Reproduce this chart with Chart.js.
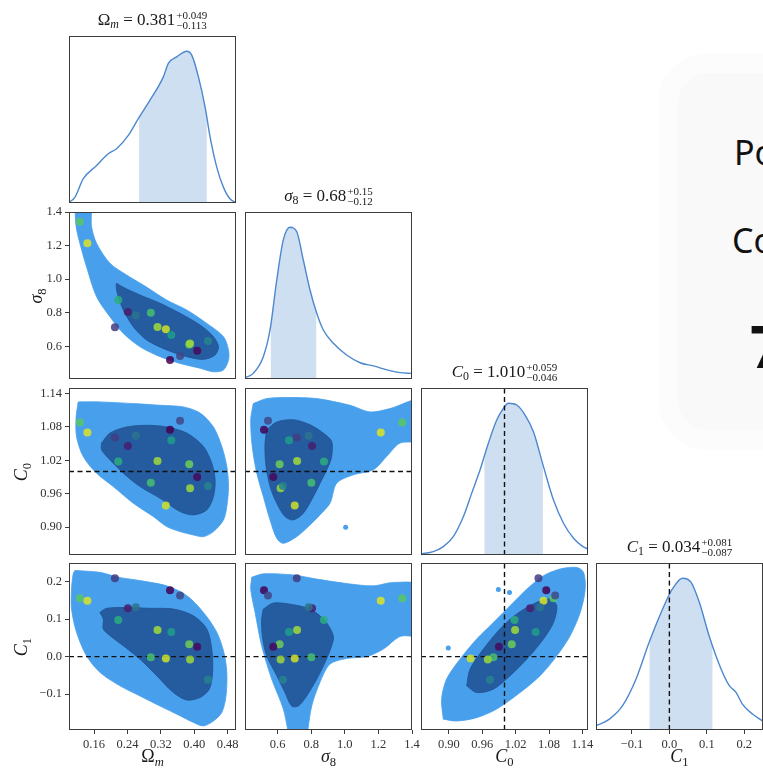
<!DOCTYPE html>
<html>
<head>
<meta charset="utf-8">
<script src="https://cdn.jsdelivr.net/npm/chart.js@4.4.1/dist/chart.umd.min.js"></script>
<style>
  html, body { margin: 0; padding: 0; background: #fff; }
  body { width: 763px; height: 770px; position: relative; overflow: hidden;
         font-family: "Liberation Serif", "DejaVu Serif", serif; color: #1a1a1a; }
  canvas { position: absolute; }
  .ttl { position: absolute; text-align: center; font-size: 17px; line-height: 22px; white-space: nowrap; }
  .ss { display: inline-block; vertical-align: -3.5px; font-size: 11px; line-height: 10px; text-align: left; margin-left: 1px; }
  .ss span { display: block; }
  .lab { position: absolute; font-size: 18px; line-height: 18px; white-space: nowrap; transform: translate(-50%, -50%); }
  .lab.rot { transform: translate(-50%, -50%) rotate(-90deg); }
  sub { font-size: 0.7em; vertical-align: -0.28em; line-height: 0; }
  #card { position: absolute; left: 678px; top: 73px; width: 160px; height: 357px; border-radius: 30px;
          background: #f9f9f9; box-shadow: 0 0 0 20px #fcfcfc; font-family: "Noto Sans", "Open Sans", sans-serif; color: #111; }
  #card div { position: absolute; font-size: 34px; line-height: 34px; white-space: nowrap; }
  #card div.big { font-size: 60px; line-height: 60px; font-weight: 700; }
</style>
</head>
<body>
<div id="card">
  <div style="left:56px; top:62px;">Po</div>
  <div style="left:54px; top:150px;">Co</div>
  <div class="big" style="left:72px; top:242px;">7</div>
</div>
<script>
// ---- parameter ranges and ticks ----
const omRange = [0.1, 0.5];
const s8Range = [0.406, 1.4];
const c0Range = [0.85, 1.15];
const c1Range = [-0.196, 0.25];

const omTicks = [0.16, 0.24, 0.32, 0.40, 0.48];
const s8Ticks = [0.6, 0.8, 1.0, 1.2, 1.4];
const c0Ticks = [0.90, 0.96, 1.02, 1.08, 1.14];
const c1Ticks = [-0.1, 0.0, 0.1, 0.2];

// fiducial values (dashed lines)
const c0Fid = 1.0;
const c1Fid = 0.0;

// ---- marginal summaries: median, +upper, -lower ----
const omStat = [0.381, 0.049, 0.113];
const s8Stat = [0.68, 0.15, 0.12];
const c0Stat = [1.010, 0.059, 0.046];
const c1Stat = [0.034, 0.081, 0.087];

// ---- 1D marginal densities (peak-normalised) ----
const omX = [0.100, 0.114, 0.134, 0.166, 0.194, 0.214, 0.242, 0.266, 0.294, 0.326, 0.338, 0.358, 0.382, 0.394, 0.410, 0.426, 0.438, 0.454, 0.470, 0.486, 0.500];
const omY = [0.004, 0.037, 0.159, 0.247, 0.324, 0.357, 0.445, 0.556, 0.677, 0.831, 0.920, 0.963, 1.000, 0.974, 0.831, 0.632, 0.434, 0.235, 0.103, 0.026, 0.004];

const s8X = [0.406, 0.455, 0.515, 0.555, 0.595, 0.634, 0.674, 0.714, 0.753, 0.793, 0.833, 0.872, 0.932, 1.011, 1.091, 1.170, 1.269, 1.329, 1.400];
const s8Y = [0.009, 0.037, 0.147, 0.323, 0.652, 0.916, 1.000, 0.970, 0.784, 0.586, 0.433, 0.323, 0.235, 0.158, 0.107, 0.086, 0.055, 0.042, 0.037];

const c0X = [0.851, 0.872, 0.890, 0.908, 0.926, 0.941, 0.956, 0.971, 0.986, 0.998, 1.007, 1.022, 1.037, 1.052, 1.070, 1.088, 1.106, 1.124, 1.141, 1.150];
const c0Y = [0.007, 0.022, 0.055, 0.121, 0.252, 0.406, 0.560, 0.736, 0.889, 0.966, 1.000, 0.988, 0.922, 0.812, 0.582, 0.362, 0.209, 0.110, 0.055, 0.040];

const c1X = [-0.196, -0.160, -0.125, -0.089, -0.054, -0.018, 0.008, 0.035, 0.058, 0.080, 0.106, 0.138, 0.160, 0.178, 0.195, 0.222, 0.248];
const c1Y = [0.028, 0.072, 0.160, 0.336, 0.578, 0.797, 0.929, 1.000, 0.973, 0.841, 0.621, 0.402, 0.292, 0.248, 0.171, 0.105, 0.061];

// ---- 2D credible regions (outer 95%, inner 68%) ----
const contOmS8Outer = [[0.114,1.45],[0.150,1.45],[0.154,1.313],[0.166,1.214],[0.198,1.095],[0.238,1.025],[0.278,0.965],[0.334,0.876],[0.382,0.817],[0.430,0.737],[0.470,0.658],[0.482,0.579],[0.482,0.519],[0.470,0.460],[0.446,0.449],[0.414,0.470],[0.366,0.499],[0.318,0.539],[0.270,0.598],[0.230,0.678],[0.198,0.777],[0.166,0.896],[0.142,1.074],[0.126,1.214],[0.117,1.313]];
const contOmS8Inner = [[0.214,0.976],[0.230,0.952],[0.270,0.906],[0.318,0.857],[0.366,0.797],[0.414,0.727],[0.446,0.658],[0.458,0.598],[0.450,0.549],[0.422,0.523],[0.382,0.539],[0.334,0.579],[0.286,0.638],[0.254,0.717],[0.230,0.817],[0.218,0.896],[0.213,0.952]];

const contOmC0Outer = [[0.122,1.125],[0.174,1.125],[0.254,1.122],[0.318,1.119],[0.374,1.116],[0.414,1.105],[0.446,1.080],[0.466,1.045],[0.478,1.009],[0.482,0.973],[0.478,0.937],[0.470,0.913],[0.446,0.892],[0.422,0.883],[0.398,0.886],[0.366,0.892],[0.334,0.901],[0.302,0.919],[0.254,0.943],[0.206,0.973],[0.166,0.997],[0.134,1.027],[0.118,1.063],[0.117,1.098]];
const contOmC0Inner = [[0.178,1.051],[0.198,1.069],[0.238,1.080],[0.286,1.083],[0.334,1.080],[0.382,1.069],[0.422,1.045],[0.442,1.015],[0.450,0.985],[0.446,0.955],[0.430,0.931],[0.398,0.922],[0.366,0.928],[0.318,0.952],[0.270,0.973],[0.230,0.997],[0.198,1.021],[0.178,1.039]];

const contOmC1Outer = [[0.114,0.230],[0.174,0.225],[0.218,0.212],[0.270,0.203],[0.334,0.189],[0.382,0.163],[0.422,0.118],[0.454,0.065],[0.471,0.011],[0.478,-0.042],[0.476,-0.105],[0.466,-0.149],[0.446,-0.172],[0.422,-0.185],[0.398,-0.176],[0.366,-0.158],[0.318,-0.132],[0.270,-0.105],[0.222,-0.078],[0.174,-0.042],[0.142,0.002],[0.118,0.065],[0.106,0.127],[0.106,0.180],[0.110,0.221]];
const contOmC1Inner = [[0.174,0.118],[0.190,0.129],[0.238,0.131],[0.294,0.129],[0.350,0.127],[0.398,0.109],[0.430,0.074],[0.442,0.020],[0.444,-0.042],[0.436,-0.087],[0.414,-0.109],[0.382,-0.116],[0.350,-0.096],[0.310,-0.051],[0.270,-0.007],[0.230,0.029],[0.198,0.056],[0.182,0.074],[0.182,0.100]];

const contS8C0Outer = [[0.455,1.122],[0.535,1.131],[0.654,1.133],[0.833,1.131],[1.031,1.119],[1.150,1.107],[1.269,1.113],[1.45,1.128],[1.45,1.057],[1.329,1.051],[1.249,1.027],[1.170,1.003],[1.051,0.994],[0.952,0.979],[0.912,0.943],[0.852,0.922],[0.783,0.901],[0.714,0.883],[0.634,0.871],[0.595,0.880],[0.555,0.913],[0.515,0.955],[0.476,0.997],[0.449,1.045],[0.440,1.093]];
const contS8C0Inner = [[0.535,1.075],[0.595,1.089],[0.694,1.093],[0.793,1.084],[0.872,1.069],[0.922,1.054],[0.922,1.027],[0.902,1.009],[0.863,0.985],[0.813,0.955],[0.753,0.925],[0.694,0.913],[0.644,0.919],[0.595,0.943],[0.555,0.973],[0.529,1.015],[0.525,1.051]];

const contS8C1Outer = [[0.446,0.212],[0.515,0.221],[0.694,0.218],[0.833,0.207],[1.031,0.194],[1.170,0.189],[1.289,0.198],[1.45,0.189],[1.45,0.060],[1.329,0.054],[1.229,0.020],[1.130,0.000],[1.011,-0.005],[0.912,-0.020],[0.852,-0.069],[0.803,-0.132],[0.753,-0.25],[0.694,-0.25],[0.634,-0.140],[0.565,-0.060],[0.505,0.029],[0.466,0.118],[0.440,0.180]];
const contS8C1Inner = [[0.515,0.127],[0.574,0.143],[0.674,0.140],[0.793,0.127],[0.882,0.096],[0.932,0.056],[0.922,0.029],[0.882,-0.016],[0.833,-0.060],[0.773,-0.105],[0.723,-0.132],[0.684,-0.132],[0.644,-0.096],[0.595,-0.051],[0.535,0.002],[0.509,0.056],[0.505,0.100]];

const contC0C1Outer = [[0.890,-0.167],[0.887,-0.114],[0.896,-0.060],[0.920,-0.007],[0.950,0.047],[0.980,0.091],[1.010,0.136],[1.040,0.180],[1.070,0.216],[1.100,0.234],[1.130,0.238],[1.142,0.225],[1.145,0.180],[1.136,0.118],[1.118,0.056],[1.094,0.002],[1.064,-0.051],[1.028,-0.096],[0.986,-0.140],[0.950,-0.163],[0.914,-0.172]];
const contC0C1Inner = [[0.932,-0.078],[0.938,-0.034],[0.962,0.020],[0.992,0.074],[1.022,0.114],[1.058,0.145],[1.082,0.154],[1.094,0.136],[1.088,0.091],[1.070,0.047],[1.040,-0.007],[1.010,-0.051],[0.980,-0.087],[0.950,-0.096]];

// small detached pieces of the outer region
const islandS8C0 = [[1.005, 0.900]];
const islandS8C1 = [[1.299, 0.156], [1.289, 0.134]];
const islandC0C1 = [[0.989, 0.179], [1.009, 0.171], [0.899, 0.023]];

// ---- simulation points (colour = score) ----
const sampleOm = [0.126, 0.144, 0.218, 0.210, 0.241, 0.260, 0.296, 0.312, 0.332, 0.345, 0.388, 0.390, 0.433, 0.407, 0.342, 0.366];
const sampleS8 = [1.342, 1.214, 0.876, 0.714, 0.805, 0.785, 0.801, 0.716, 0.702, 0.668, 0.612, 0.618, 0.632, 0.574, 0.519, 0.543];
const sampleC0 = [1.088, 1.070, 1.018, 1.061, 1.046, 1.064, 0.980, 1.019, 0.939, 1.056, 1.013, 0.970, 0.974, 0.990, 1.075, 1.091];
const sampleC1 = [0.156, 0.149, 0.098, 0.209, 0.129, 0.132, -0.002, 0.071, -0.005, 0.066, 0.033, -0.008, -0.062, 0.026, 0.177, 0.163];
const sampleScore = [0.74, 0.95, 0.62, 0.18, 0.08, 0.38, 0.70, 0.86, 0.93, 0.55, 0.78, 0.85, 0.45, 0.02, 0.00, 0.22];

// ---- styling ----
const LINE_BLUE = 'rgb(76,136,206)';
const SHADE_BLUE = 'rgba(76,136,206,0.27)';
const OUTER_FILL = 'rgb(72,160,236)';
const INNER_FILL = 'rgb(37,92,160)';
const FRAME = '#3c3c3c';
const TICK_FONT = { family: 'Liberation Serif', size: 12.5 };

const X0 = 69, Y0 = 36, PITCH = 175.75, SIZE = 167, PAD = 10, YAXIS_W = 59, XAXIS_H = 26;

const axes = {
  om: { range: omRange, ticks: omTicks, dec: 2, name: 'Ω<sub><i>m</i></sub>', stat: omStat, sdec: 3, x: omX, y: omY },
  s8: { range: s8Range, ticks: s8Ticks, dec: 1, name: '<i>σ</i><sub>8</sub>', stat: s8Stat, sdec: 2, x: s8X, y: s8Y },
  c0: { range: c0Range, ticks: c0Ticks, dec: 2, name: '<i>C</i><sub>0</sub>', stat: c0Stat, sdec: 3, x: c0X, y: c0Y },
  c1: { range: c1Range, ticks: c1Ticks, dec: 1, name: '<i>C</i><sub>1</sub>', stat: c1Stat, sdec: 3, x: c1X, y: c1Y },
};
const keys = ['om', 's8', 'c0', 'c1'];
const fid = { c0: c0Fid, c1: c1Fid };
const samples = { om: sampleOm, s8: sampleS8, c0: sampleC0, c1: sampleC1 };

const pairs = [
  { x: 'om', y: 's8', outer: contOmS8Outer, inner: contOmS8Inner, islands: [] },
  { x: 'om', y: 'c0', outer: contOmC0Outer, inner: contOmC0Inner, islands: [] },
  { x: 'om', y: 'c1', outer: contOmC1Outer, inner: contOmC1Inner, islands: [] },
  { x: 's8', y: 'c0', outer: contS8C0Outer, inner: contS8C0Inner, islands: islandS8C0 },
  { x: 's8', y: 'c1', outer: contS8C1Outer, inner: contS8C1Inner, islands: islandS8C1 },
  { x: 'c0', y: 'c1', outer: contC0C1Outer, inner: contC0C1Inner, islands: islandC0C1 },
];

const VIRIDIS = [[68,1,84],[72,40,120],[62,73,137],[49,104,142],[38,130,142],[31,158,137],[53,183,121],[109,205,89],[180,222,44],[253,231,37]];
function viridis(t, a) {
  const n = VIRIDIS.length - 1;
  const p = Math.max(0, Math.min(1, t)) * n;
  const i = Math.min(n - 1, Math.floor(p));
  const f = p - i;
  const c = VIRIDIS[i].map((v, k) => Math.round(v + (VIRIDIS[i + 1][k] - v) * f));
  return `rgba(${c[0]},${c[1]},${c[2]},${a})`;
}

function fmt(v, d) {
  const s = Math.abs(v).toFixed(d);
  return (v < -1e-9 ? '\u2212' : '') + s;
}
const toXY = arr => arr.map(([x, y]) => ({ x, y }));
const closed = arr => toXY(arr.concat([arr[0]]));

// frame around each panel
const framePlugin = {
  id: 'frame',
  afterDraw(chart) {
    const { ctx, chartArea: a } = chart;
    ctx.save();
    ctx.strokeStyle = FRAME;
    ctx.lineWidth = 1;
    ctx.strokeRect(Math.round(a.left) + 0.5, Math.round(a.top) + 0.5, Math.round(a.right - a.left) - 1, Math.round(a.bottom - a.top) - 1);
    ctx.restore();
  }
};

// restricts the shaded credible-interval fill to [lo, hi]
const shadePlugin = {
  id: 'shadeClip',
  beforeDatasetsDraw(chart) {
    const ds = chart.data.datasets;
    const idx = ds.findIndex(d => d.shadeRange);
    chart.$shadeIdx = idx;
    if (idx < 0) return;
    const [lo, hi] = ds[idx].shadeRange;
    const xs = chart.scales.x, a = chart.chartArea;
    const x1 = xs.getPixelForValue(lo), x2 = xs.getPixelForValue(hi);
    chart.ctx.save();
    chart.ctx.beginPath();
    chart.ctx.rect(x1, a.top, x2 - x1, a.bottom - a.top);
    chart.ctx.clip();
  },
  afterDatasetDraw(chart, args) {
    if (args.index === chart.$shadeIdx) chart.ctx.restore();
  }
};

function scaleCfg(key, pos, show) {
  const a = axes[key];
  return {
    type: 'linear', position: pos, min: a.range[0], max: a.range[1], display: show,
    grid: { drawOnChartArea: false, drawTicks: true, tickLength: 4, color: FRAME, lineWidth: 1 },
    border: { display: false },
    ticks: { font: TICK_FONT, color: '#333', padding: 3, maxRotation: 0, minRotation: 0, autoSkip: false,
             callback: v => fmt(v, a.dec) },
    afterBuildTicks: s => { s.ticks = a.ticks.map(v => ({ value: v })); },
    afterFit: s => {
      if (show) { if (pos === 'left') s.width = YAXIS_W; else s.height = XAXIS_H; }
      else { s.width = 0; s.height = 0; }
      s.paddingLeft = s.paddingRight = s.paddingTop = s.paddingBottom = 0;
    }
  };
}

function makeCanvas(col, row) {
  const L = Math.round(X0 + PITCH * col), T = Math.round(Y0 + PITCH * row);
  const showY = col === 0 && row > 0, showX = row === 3;
  const left = showY ? L - YAXIS_W - PAD : L - PAD;
  const w = (showY ? YAXIS_W : 0) + PAD + SIZE + PAD;
  const h = PAD + SIZE + (showX ? XAXIS_H : 0) + PAD;
  const cv = document.createElement('canvas');
  cv.width = w; cv.height = h;
  cv.style.left = left + 'px'; cv.style.top = (T - PAD) + 'px';
  cv.style.width = w + 'px'; cv.style.height = h + 'px';
  document.body.appendChild(cv);
  return { cv, L, T, showX, showY };
}

function baseOptions(xScale, yScale) {
  return {
    responsive: false, animation: false, devicePixelRatio: 1,
    layout: { padding: PAD },
    plugins: { legend: { display: false }, tooltip: { enabled: false } },
    scales: { x: xScale, y: yScale },
    elements: { point: { radius: 0 } }
  };
}

function dashed(points) {
  return { type: 'line', data: points, borderColor: '#111', borderWidth: 1.4, borderDash: [5, 3.5],
           pointRadius: 0, fill: false, tension: 0, order: 1 };
}

function addText(html, cls, cx, cy) {
  const d = document.createElement('div');
  d.className = cls; d.innerHTML = html;
  d.style.left = cx + 'px'; d.style.top = cy + 'px';
  document.body.appendChild(d);
}

// diagonal: 1D marginals
keys.forEach((k, i) => {
  const a = axes[k];
  const { cv, L, T, showX } = makeCanvas(i, i);
  const curve = a.x.map((x, j) => ({ x, y: a.y[j] }));
  const [med, up, lo] = a.stat;
  const datasets = [
    { type: 'line', data: curve, borderColor: LINE_BLUE, borderWidth: 1.4, pointRadius: 0, fill: false,
      cubicInterpolationMode: 'monotone', order: 2 },
    { type: 'line', data: curve, borderWidth: 0, backgroundColor: SHADE_BLUE, pointRadius: 0, fill: 'origin',
      cubicInterpolationMode: 'monotone', order: 5, shadeRange: [med - lo, med + up] },
  ];
  if (k in fid) datasets.push(dashed([{ x: fid[k], y: 0 }, { x: fid[k], y: 1.1 }]));
  new Chart(cv, {
    type: 'scatter',
    data: { datasets },
    options: baseOptions(scaleCfg(k, 'bottom', showX),
      { type: 'linear', min: 0, max: 1.1, display: false,
        afterFit: s => { s.width = 0; s.paddingLeft = s.paddingRight = s.paddingTop = s.paddingBottom = 0; } }),
    plugins: [shadePlugin, framePlugin]
  });
  // title
  const d = document.createElement('div');
  d.className = 'ttl';
  d.style.left = L + 'px'; d.style.width = SIZE + 'px'; d.style.top = (T - 27) + 'px';
  d.innerHTML = `${a.name} = ${med.toFixed(a.sdec)}<span class="ss"><span>+${up.toFixed(a.sdec)}</span><span>\u2212${lo.toFixed(a.sdec)}</span></span>`;
  document.body.appendChild(d);
});

// lower triangle: 2D regions with simulation points
pairs.forEach(p => {
  const col = keys.indexOf(p.x), row = keys.indexOf(p.y);
  const { cv, showX, showY } = makeCanvas(col, row);
  const n = sampleScore.length;
  const pts = [];
  for (let j = 0; j < n; j++) pts.push({ x: samples[p.x][j], y: samples[p.y][j] });
  const datasets = [
    { type: 'scatter', data: pts, pointRadius: 4, pointBorderWidth: 0,
      pointBackgroundColor: sampleScore.map(s => viridis(s, 0.85)), order: 0 },
    { type: 'line', data: closed(p.outer), fill: 'shape', backgroundColor: OUTER_FILL, borderColor: OUTER_FILL,
      borderWidth: 0.8, pointRadius: 0, tension: 0.3, order: 4 },
    { type: 'line', data: closed(p.inner), fill: 'shape', backgroundColor: INNER_FILL, borderColor: 'rgb(33,82,145)',
      borderWidth: 0.8, pointRadius: 0, tension: 0.3, order: 3 },
  ];
  if (p.islands.length) {
    datasets.push({ type: 'scatter', data: toXY(p.islands), pointRadius: 2.5, pointBorderWidth: 0,
                    pointBackgroundColor: OUTER_FILL, order: 3.5 });
  }
  const xr = axes[p.x].range, yr = axes[p.y].range;
  if (p.y in fid) datasets.push(dashed([{ x: xr[0], y: fid[p.y] }, { x: xr[1], y: fid[p.y] }]));
  if (p.x in fid) datasets.push(dashed([{ x: fid[p.x], y: yr[0] }, { x: fid[p.x], y: yr[1] }]));
  new Chart(cv, {
    type: 'scatter',
    data: { datasets },
    options: baseOptions(scaleCfg(p.x, 'bottom', showX), scaleCfg(p.y, 'left', showY)),
    plugins: [framePlugin]
  });
});

// axis names
keys.forEach((k, i) => {
  const cx = Math.round(X0 + PITCH * i) + SIZE / 2;
  addText(axes[k].name, 'lab', cx, 756);
});
const yLabX = { s8: 36, c0: 21, c1: 21 };
['s8', 'c0', 'c1'].forEach(k => {
  const row = keys.indexOf(k);
  const cy = Math.round(Y0 + PITCH * row) + SIZE / 2;
  addText(axes[k].name, 'lab rot', yLabX[k], cy);
});
</script>
</body>
</html>
